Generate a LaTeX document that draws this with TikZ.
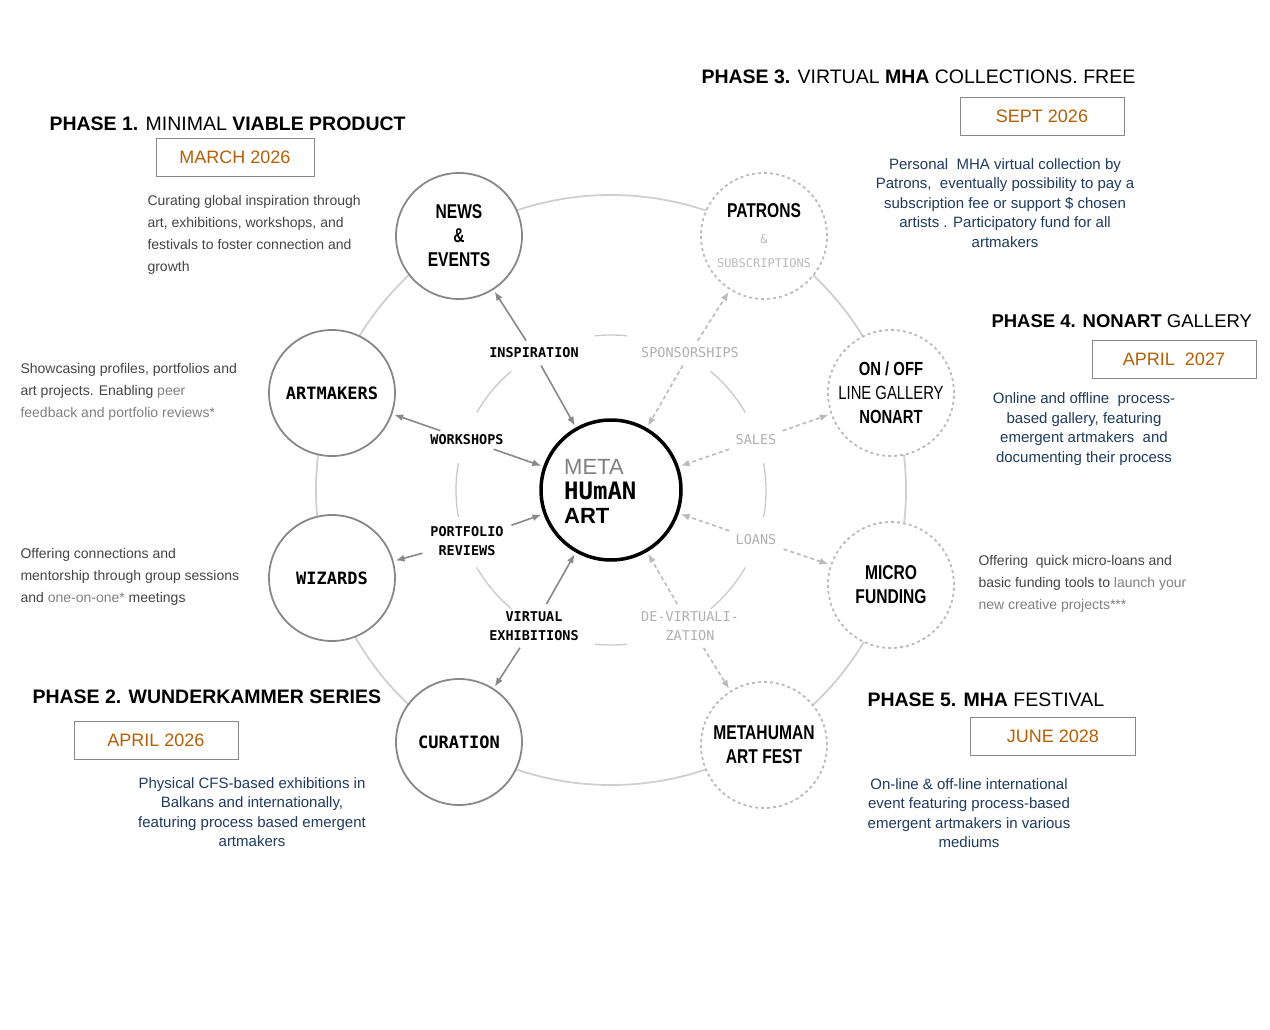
\documentclass[tikz,border=0pt]{standalone}
\usetikzlibrary{arrows.meta}
\usepackage{fontspec}
\setmainfont{Liberation Sans}
\newfontfamily\monob{DejaVu Sans Mono}
\newfontfamily\narrow[FakeStretch=0.78]{Liberation Sans}
\begin{document}
\definecolor{navy}{HTML}{1F3A5F}
\definecolor{ora}{HTML}{B45F06}
\definecolor{gr}{HTML}{888888}
\definecolor{lg}{HTML}{BBBBBB}
\definecolor{tx}{HTML}{444444}
\begin{tikzpicture}[x=1pt,y=-1pt,
  outer/.style={circle,draw=gr,line width=1.8pt,fill=white,minimum size=126pt,inner sep=0pt,align=center,font=\narrow\bfseries\fontsize{20}{24}\selectfont},
  outerd/.style={outer,draw=lg,dash pattern=on 3pt off 3pt},
  lab/.style={font=\monob\bfseries\fontsize{13.5}{19}\selectfont,align=center,inner sep=2pt},
  labg/.style={lab,text=lg!80!gray,font=\monob\fontsize{13.5}{19}\selectfont},
  arr/.style={-{Latex[length=9pt,width=7pt]},gr,line width=1.6pt,shorten <=6pt,shorten >=2pt},
  arrd/.style={-{Latex[length=9pt,width=7pt]},lg,line width=1.6pt,dash pattern=on 4pt off 3pt,shorten <=6pt,shorten >=2pt},
  head/.style={anchor=west,font=\fontsize{19.5}{24}\selectfont},
  date/.style={draw=gr,text=ora,minimum height=38pt,font=\fontsize{18}{22}\selectfont},
  body/.style={text=navy,align=center,font=\fontsize{15}{19.5}\selectfont},
  side/.style={text=tx,align=left,anchor=north west,font=\fontsize{14}{22}\selectfont}]
\useasboundingbox (0,0) rectangle (1270,1030);
\coordinate (c) at (611,490);
% rings
\draw[lg!70,line width=1.8pt] (c) circle (295);
\foreach \a/\s in {270/6,320/10,0/10,40/10,90/6,140/10,180/10,220/10}
  \draw[lg!80,line width=1.3pt] (c) ++(\a-\s:155) arc (\a-\s:\a+\s:155);
% nodes
\node[outer] (news) at (459,236) {NEWS\\\&\\EVENTS};
\node[outer,font=\monob\bfseries\fontsize{17}{20}\selectfont] (art) at (332,393) {ARTMAKERS};
\node[outer,font=\monob\bfseries\fontsize{17}{20}\selectfont] (wiz) at (332,578) {WIZARDS};
\node[outer,font=\monob\bfseries\fontsize{17}{20}\selectfont] (cur) at (459,742) {CURATION};
\node[outerd] (fest) at (764,745) {METAHUMAN\\ART FEST};
\node[outerd] (micro) at (891,585) {MICRO\\FUNDING};
\node[outerd,font=\narrow\fontsize{19}{24}\selectfont] (gal) at (891,393) {{\bfseries ON / OFF}\\LINE GALLERY\\{\bfseries NONART}};
\node[outerd,align=center] (pat) at (764,236) {PATRONS\\[2pt]{\monob\mdseries\fontsize{12}{14}\selectfont\color{lg}\&}\\{\monob\mdseries\fontsize{12}{14}\selectfont\color{lg}SUBSCRIPTIONS}};
\node[circle,draw=black,line width=3.5pt,fill=white,minimum size=140pt] (core) at (c) {};
\node[anchor=west,inner sep=0pt,text=gray,font=\fontsize{22}{24}\selectfont] (lm) at (564,467) {META};
\node[anchor=west,inner sep=0pt,font=\monob\bfseries\fontsize{24}{26}\selectfont] (lh) at (564,491) {HUmAN};
\node[anchor=west,inner sep=0pt,font=\bfseries\fontsize{22}{24}\selectfont] (la) at (564,516) {ART};
% labels
\node[lab] (insp) at (534,353) {INSPIRATION};
\node[lab] (work) at (467,440) {WORKSHOPS};
\node[lab] (port) at (467,541) {PORTFOLIO\\REVIEWS};
\node[lab] (virt) at (534,626) {VIRTUAL\\EXHIBITIONS};
\node[labg] (spon) at (690,353) {SPONSORSHIPS};
\node[labg] (sales) at (756,440) {SALES};
\node[labg] (loans) at (756,540) {LOANS};
\node[labg] (devi) at (690,626) {DE-VIRTUALI-\\ZATION};
% arrows
\draw[arr] (insp) -- (news);
\draw[arr] (insp) -- (core);
\draw[arr] (work) -- (art);
\draw[arr] (work) -- (core);
\draw[arr] (port) -- (wiz);
\draw[arr] (port) -- (core);
\draw[arr] (virt) -- (cur);
\draw[arr] (virt) -- (core);
\draw[arrd] (spon) -- (pat);
\draw[arrd] (spon) -- (core);
\draw[arrd] (sales) -- (gal);
\draw[arrd] (sales) -- (core);
\draw[arrd] (loans) -- (micro);
\draw[arrd] (loans) -- (core);
\draw[arrd] (devi) -- (fest);
\draw[arrd] (devi) -- (core);
% headings
\node[head] (h1) at (46,124) {\bfseries PHASE 1.\mdseries{} MINIMAL \bfseries VIABLE PRODUCT};
\node[date,minimum width=158pt] (d1) at (235,157) {MARCH 2026};
\node[head] (h2) at (29,697) {\bfseries PHASE 2. WUNDERKAMMER SERIES};
\node[date,minimum width=164pt] (d2) at (156,740) {APRIL 2026};
\node[head] (h3) at (698,77) {\bfseries PHASE 3.\mdseries{} VIRTUAL \bfseries MHA\mdseries{} COLLECTIONS. FREE};
\node[date,minimum width=164pt] (d3) at (1042,116) {SEPT 2026};
\node[head,font=\fontsize{18.5}{24}\selectfont] (h4) at (988,321) {\bfseries PHASE 4. NONART\mdseries{} GALLERY};
\node[date,minimum width=164pt] (d4) at (1174,359) {APRIL\ \ 2027};
\node[head] (h5) at (864,700) {\bfseries PHASE 5. MHA\mdseries{} FESTIVAL};
\node[date,minimum width=165pt] (d5) at (1053,736) {JUNE 2028};
% bodies
\node[body] (b3) at (1005,203) {Personal\ \ MHA virtual collection by\\Patrons,\ \ eventually possibility to pay a\\subscription fee or support \$ chosen\\artists . Participatory fund for all\\artmakers};
\node[body] (b4) at (1084,429) {Online and offline\ \ process-\\based gallery, featuring\\emergent artmakers\ \ and\\documenting their process};
\node[body] (b2) at (252,812) {Physical CFS-based exhibitions in\\Balkans and internationally,\\featuring process based emergent\\artmakers};
\node[body] (b5) at (969,813) {On-line \& off-line international\\event featuring process-based\\emergent artmakers in various\\mediums};
\node[side] (s1) at (144,192) {Curating global inspiration through\\art, exhibitions, workshops, and\\festivals to foster connection and\\growth};
\node[side] (s2) at (17,360) {Showcasing profiles, portfolios and\\art projects. Enabling {\color{gray}peer}\\{\color{gray}feedback and portfolio reviews*}};
\node[side] (s3) at (17,545) {Offering connections and\\mentorship through group sessions\\and {\color{gray}one-on-one*} meetings};
\node[side] (s4) at (975,552) {Offering\ \ quick micro-loans and\\basic funding tools to {\color{gray}launch your}\\{\color{gray}new creative projects***}};
\end{tikzpicture}
\end{document}
